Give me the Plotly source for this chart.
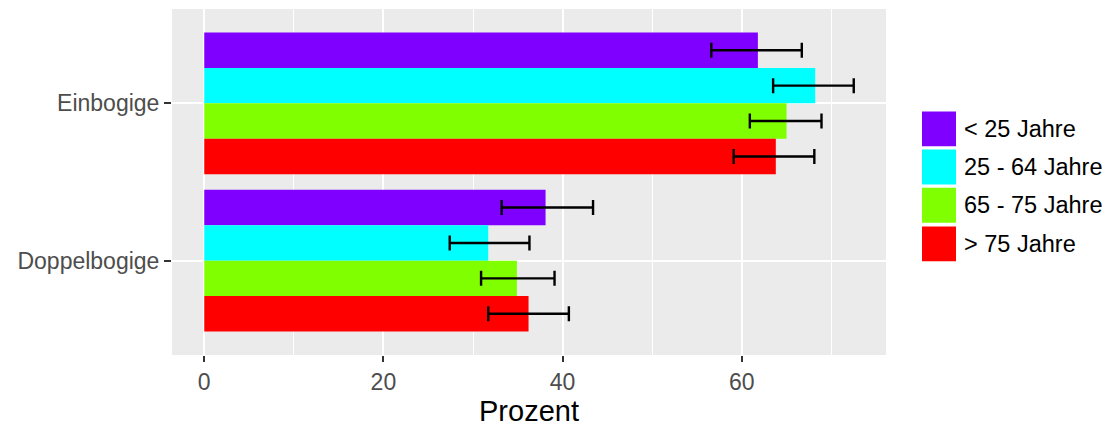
import plotly.graph_objects as go

categories = ["Einbogige", "Doppelbogige"]
groups = ["< 25 Jahre", "25 - 64 Jahre", "65 - 75 Jahre", "> 75 Jahre"]
colors = ["#8000FF", "#00FFFF", "#80FF00", "#FF0000"]

# values per group: [Einbogige, Doppelbogige]
values = {
    "< 25 Jahre":    [61.8, 38.1],
    "25 - 64 Jahre": [68.2, 31.7],
    "65 - 75 Jahre": [65.0, 34.9],
    "> 75 Jahre":    [63.8, 36.2],
}
lower = {
    "< 25 Jahre":    [56.6, 33.2],
    "25 - 64 Jahre": [63.5, 27.4],
    "65 - 75 Jahre": [60.9, 30.9],
    "> 75 Jahre":    [59.1, 31.7],
}
upper = {
    "< 25 Jahre":    [66.7, 43.4],
    "25 - 64 Jahre": [72.5, 36.3],
    "65 - 75 Jahre": [68.9, 39.1],
    "> 75 Jahre":    [68.1, 40.7],
}

W, H = 1109, 430
L, R, T, B = 172, 223, 9, 72
pw, ph = W - L - R, H - T - B

FONT = "Liberation Sans, Arial, sans-serif"

fig = go.Figure()
for g, c in zip(groups, colors):
    v = values[g]
    fig.add_trace(go.Bar(
        x=v, y=categories, orientation="h", name=g,
        marker=dict(color=c, line=dict(width=0)),
        error_x=dict(type="data", symmetric=False,
                     array=[u - x for u, x in zip(upper[g], v)],
                     arrayminus=[x - l for l, x in zip(lower[g], v)],
                     color="black", thickness=2.4, width=7.5),
        showlegend=False,
    ))

def px_x(p):
    return (p - L) / pw

def px_y(p):
    return (H - B - p) / ph

# manual legend (ggplot style large keys)
key_tops = [112.3, 150.7, 189.3, 228.3]
key_h = 35.2
for g, c, top in zip(groups, colors, key_tops):
    fig.add_shape(type="rect", xref="paper", yref="paper",
                  x0=px_x(922), x1=px_x(956), y0=px_y(top + key_h), y1=px_y(top),
                  fillcolor=c, line=dict(width=0), layer="above")
    fig.add_annotation(xref="paper", yref="paper", x=px_x(962), y=px_y(top + key_h / 2),
                       text=g, showarrow=False, xanchor="left", yanchor="middle",
                       font=dict(family=FONT, size=23.5, color="black"))

fig.update_layout(
    width=W, height=H,
    margin=dict(l=L, r=R, t=T, b=B, pad=0),
    paper_bgcolor="white", plot_bgcolor="#EBEBEB",
    barmode="group", bargap=0.1, bargroupgap=0,
    font=dict(family=FONT),
)
fig.update_xaxes(
    range=[-3.6, 76.1], tickvals=[0, 20, 40, 60],
    showgrid=True, gridcolor="white", gridwidth=2.4,
    minor=dict(dtick=10, tick0=0, showgrid=True, gridcolor="white", gridwidth=1.2),
    zeroline=False, showline=False,
    ticks="outside", ticklen=6, tickwidth=2, tickcolor="#333333",
    tickfont=dict(family=FONT, size=23, color="#4D4D4D"),
    title=dict(text="Prozent", font=dict(family=FONT, size=29, color="black"), standoff=6),
)
fig.update_yaxes(
    range=[1.6, -0.6], type="category",
    showgrid=True, gridcolor="white", gridwidth=2.4,
    zeroline=False, showline=False,
    ticks="outside", ticklen=7, tickwidth=2, tickcolor="#333333",
    tickfont=dict(family=FONT, size=23, color="#4D4D4D"),
)

fig.write_html("out.html")
